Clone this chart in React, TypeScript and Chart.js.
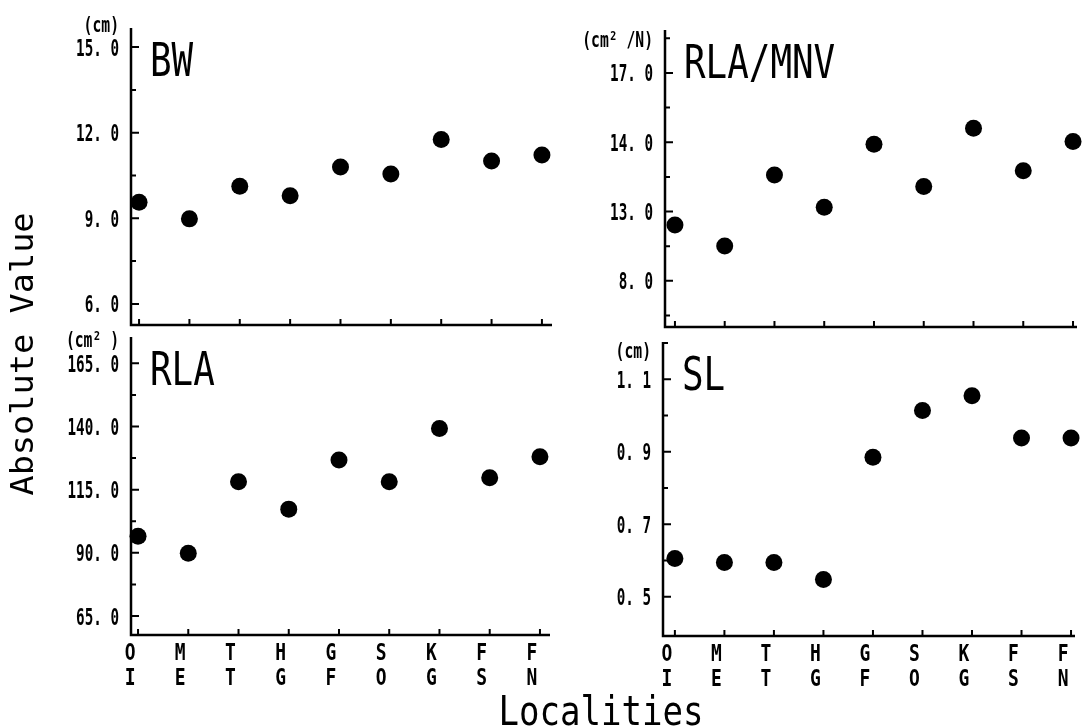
import { useEffect, useRef } from 'react'
import { Chart, registerables, type ChartConfiguration, type Plugin } from 'chart.js'

Chart.register(...registerables)

const PAGE_W = 1086
const PAGE_H = 728
const MONO = '"DejaVu Sans Mono", "Liberation Mono", monospace'

// locality codes, shown as two stacked letters under the bottom panels
const localities = ['OI', 'ME', 'TT', 'HG', 'GF', 'SO', 'KG', 'FS', 'FN']

const bwValues = [9.56, 8.98, 10.12, 9.79, 10.8, 10.55, 11.76, 11.01, 11.22]
const bwTicks = [6, 9, 12, 15]
const bwTickLabels = ['6. 0', '9. 0', '12. 0', '15. 0']
const bwMinorTicks = [7.5, 10.5, 13.5]

const rlaMnvValues = [10.42, 9.51, 12.58, 11.19, 13.91, 12.08, 14.61, 12.77, 14.03]
const rlaMnvTicks = [8, 11, 14, 17]
const rlaMnvTickLabels = ['8. 0', '13. 0', '14. 0', '17. 0']
const rlaMnvMinorTicks = [6.5, 9.5, 12.5, 15.5, 18.5]

const rlaValues = [96.6, 89.8, 118.1, 107.3, 126.7, 118.1, 139.2, 119.7, 128.0]
const rlaTicks = [65, 90, 115, 140, 165]
const rlaTickLabels = ['65. 0', '90. 0', '115. 0', '140. 0', '165. 0']
const rlaMinorTicks = [77.5, 102.5, 127.5, 152.5]

const slValues = [0.606, 0.595, 0.595, 0.548, 0.885, 1.014, 1.055, 0.938, 0.938]
const slTicks = [0.5, 0.7, 0.9, 1.1]
const slTickLabels = ['0. 5', '0. 7', '0. 9', '1. 1']
const slMinorTicks = [0.6, 0.8, 1.0, 1.2]

type Panel = {
  title: string
  unit: string
  values: number[]
  ticks: number[]
  tickLabels: string[]
  minor: number[]
  area: { left: number; top: number; right: number; bottom: number }
  xRange: [number, number]
  yRange: [number, number]
  unitDy: number
  xLabels: boolean
}

const panels: Panel[] = [
  {
    title: 'BW',
    unit: '(cm)',
    values: bwValues,
    ticks: bwTicks,
    tickLabels: bwTickLabels,
    minor: bwMinorTicks,
    area: { left: 131, top: 28, right: 552, bottom: 325 },
    xRange: [-0.16, 8.2],
    yRange: [5.26, 15.67],
    unitDy: -2,
    xLabels: false,
  },
  {
    title: 'RLA/MNV',
    unit: '(cm² /N)',
    values: rlaMnvValues,
    ticks: rlaMnvTicks,
    tickLabels: rlaMnvTickLabels,
    minor: rlaMnvMinorTicks,
    area: { left: 665, top: 30, right: 1077, bottom: 327 },
    xRange: [-0.2, 8.08],
    yRange: [6.0, 18.86],
    unitDy: 11,
    xLabels: false,
  },
  {
    title: 'RLA',
    unit: '(cm² )',
    values: rlaValues,
    ticks: rlaTicks,
    tickLabels: rlaTickLabels,
    minor: rlaMinorTicks,
    area: { left: 131, top: 337, right: 550, bottom: 635 },
    xRange: [-0.14, 8.2],
    yRange: [57.5, 175.4],
    unitDy: 4,
    xLabels: true,
  },
  {
    title: 'SL',
    unit: '(cm)',
    values: slValues,
    ticks: slTicks,
    tickLabels: slTickLabels,
    minor: slMinorTicks,
    area: { left: 663, top: 342, right: 1075, bottom: 636 },
    xRange: [-0.24, 8.08],
    yRange: [0.392, 1.203],
    unitDy: 10,
    xLabels: true,
  },
]

// condensed text: the original uses a narrow half-width gothic face
function drawText(
  ctx: CanvasRenderingContext2D,
  text: string,
  x: number,
  y: number,
  font: string,
  sx: number,
  align: CanvasTextAlign,
  rotate = 0,
) {
  ctx.save()
  ctx.translate(x, y)
  if (rotate) ctx.rotate(rotate)
  ctx.scale(sx, 1)
  ctx.font = font
  ctx.textAlign = align
  ctx.textBaseline = 'alphabetic'
  ctx.fillStyle = '#000'
  ctx.fillText(text, 0, 0)
  ctx.restore()
}

const panelDecor: Plugin<'scatter'> = {
  id: 'panelDecor',
  beforeDatasetsDraw(chart, _args, opts: any) {
    const { ctx, chartArea: a, scales } = chart
    const p: Panel = opts.panel
    ctx.save()
    ctx.strokeStyle = '#000'
    ctx.lineWidth = 2.5
    ctx.beginPath()
    ctx.moveTo(a.left, a.top)
    ctx.lineTo(a.left, a.bottom)
    ctx.lineTo(a.right, a.bottom)
    ctx.stroke()

    ctx.lineWidth = 2
    ctx.beginPath()
    for (const v of p.ticks) {
      const y = scales.y.getPixelForValue(v)
      ctx.moveTo(a.left, y)
      ctx.lineTo(a.left + 8, y)
    }
    for (const v of p.minor) {
      const y = scales.y.getPixelForValue(v)
      ctx.moveTo(a.left, y)
      ctx.lineTo(a.left + 5, y)
    }
    localities.forEach((_, i) => {
      const x = scales.x.getPixelForValue(i)
      ctx.moveTo(x, a.bottom)
      ctx.lineTo(x, a.bottom - 6)
    })
    ctx.stroke()
    ctx.restore()
  },
  afterDraw(chart, _args, opts: any) {
    const { ctx, chartArea: a, scales } = chart
    const p: Panel = opts.panel
    p.ticks.forEach((v, i) => {
      const y = scales.y.getPixelForValue(v)
      drawText(ctx, p.tickLabels[i], a.left - 12, y + 8.5, `bold 23px ${MONO}`, 0.62, 'right')
    })
    drawText(ctx, p.unit, a.left - 12, a.top + p.unitDy + 6, `bold 21px ${MONO}`, 0.7, 'right')
    drawText(ctx, p.title, a.left + 19, a.top + 48, `46px ${MONO}`, 0.78, 'left')
    if (p.xLabels) {
      localities.forEach((code, i) => {
        const x = scales.x.getPixelForValue(i) - 8
        drawText(ctx, code[0], x, a.bottom + 25, `bold 23px ${MONO}`, 0.78, 'center')
        drawText(ctx, code[1], x, a.bottom + 50, `bold 23px ${MONO}`, 0.78, 'center')
      })
    }
  },
}

const pageTitles: Plugin<'scatter'> = {
  id: 'pageTitles',
  afterDraw(chart) {
    const { ctx } = chart
    drawText(ctx, 'Absolute Value', 33, 354, `32px ${MONO}`, 1.05, 'center', -Math.PI / 2)
    drawText(ctx, 'Localities', 601, 725, `41px ${MONO}`, 0.83, 'center')
  },
}

const PanelChart = ({ panel, withTitles }: { panel: Panel; withTitles: boolean }) => {
  const canvasRef = useRef<HTMLCanvasElement | null>(null)

  useEffect(() => {
    if (!canvasRef.current) return undefined
    const { area } = panel
    const config: ChartConfiguration<'scatter'> = {
      type: 'scatter',
      data: {
        datasets: [
          {
            data: panel.values.map((v, i) => ({ x: i, y: v })),
            backgroundColor: '#000',
            borderColor: '#000',
            borderWidth: 0,
            pointRadius: 8.5,
            pointHoverRadius: 8.5,
            clip: false,
          },
        ],
      },
      options: {
        animation: false,
        responsive: false,
        events: [],
        layout: {
          padding: {
            left: area.left,
            top: area.top,
            right: PAGE_W - area.right,
            bottom: PAGE_H - area.bottom,
          },
        },
        scales: {
          x: { type: 'linear', display: false, min: panel.xRange[0], max: panel.xRange[1] },
          y: { type: 'linear', display: false, min: panel.yRange[0], max: panel.yRange[1] },
        },
        plugins: {
          legend: { display: false },
          tooltip: { enabled: false },
          panelDecor: { panel },
        } as any,
      },
      plugins: withTitles ? [panelDecor, pageTitles] : [panelDecor],
    }
    const chart = new Chart(canvasRef.current, config)
    return () => {
      chart.destroy()
    }
  }, [panel, withTitles])

  return (
    <canvas
      ref={canvasRef}
      width={PAGE_W}
      height={PAGE_H}
      style={{ position: 'absolute', left: 0, top: 0, width: PAGE_W, height: PAGE_H }}
    />
  )
}

const App = () => (
  <div
    style={{
      position: 'absolute',
      left: 0,
      top: 0,
      width: PAGE_W,
      height: PAGE_H,
      background: '#fff',
      overflow: 'hidden',
    }}
  >
    {panels.map((p, i) => (
      <PanelChart key={p.title} panel={p} withTitles={i === 2} />
    ))}
  </div>
)

export default App
